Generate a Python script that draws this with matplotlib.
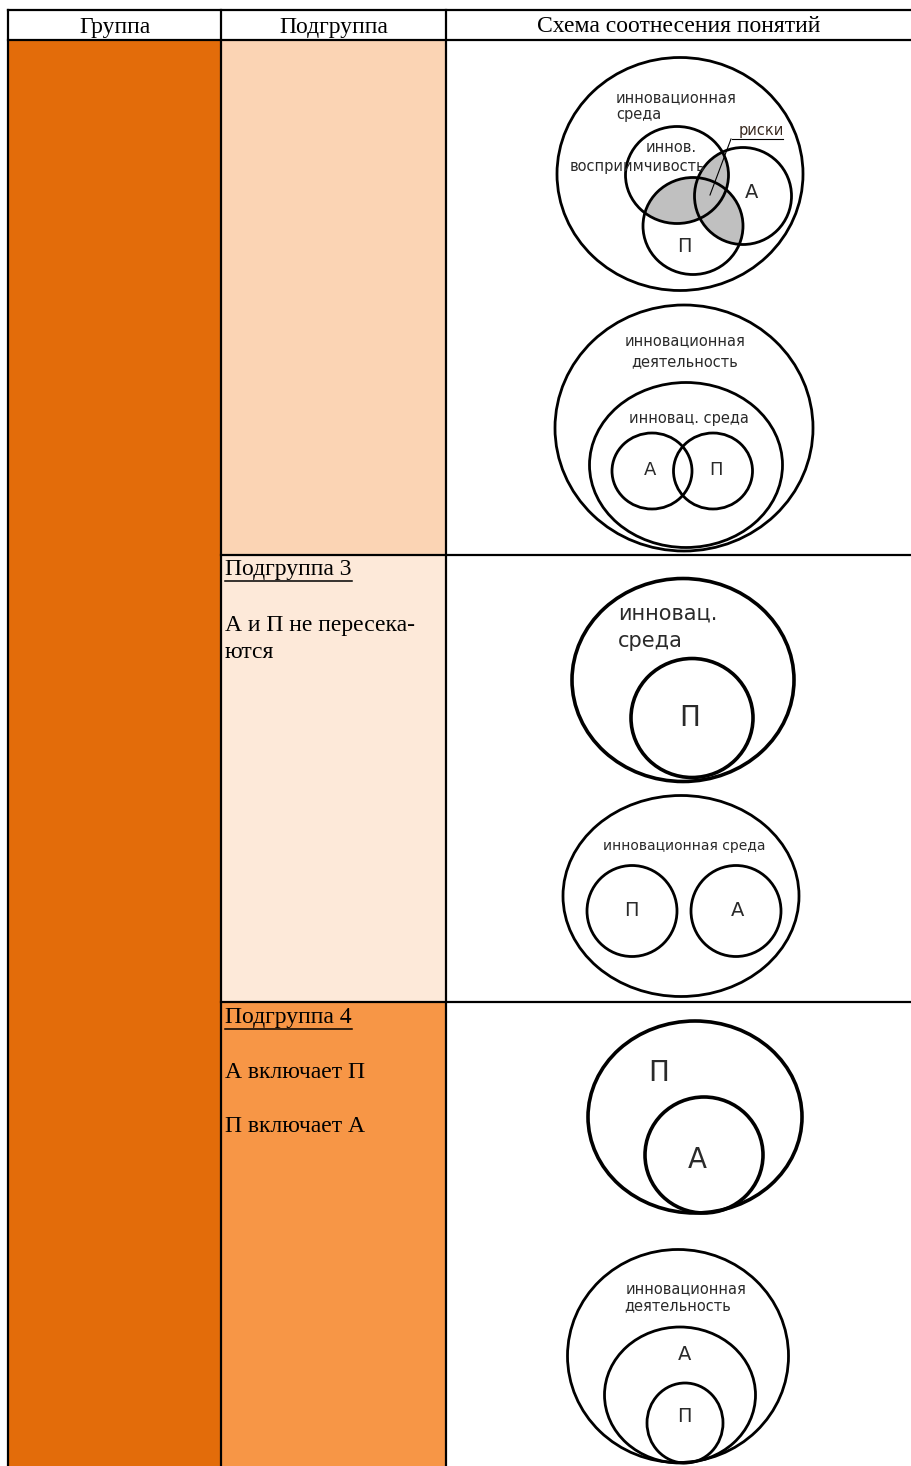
import matplotlib
matplotlib.use("Agg")
import numpy as np
import matplotlib.pyplot as plt
from matplotlib.patches import Ellipse, Rectangle

# ---- data (texts) ----
header_labels = ["Группа", "Подгруппа", "Схема соотнесения понятий"]
subgroup_titles = ["", "Подгруппа 3", "Подгруппа 4"]
subgroup_lines = [[], ["А и П не пересека-", "ются"], ["А включает П", "П включает А"]]
subgroup_colors = ["#FBD4B4", "#FDE9D9", "#F79646"]
group_color = "#E36C0A"

W, H = 911, 1466
fig = plt.figure(figsize=(W / 100, H / 100), dpi=100)
ax = fig.add_axes([0, 0, 1, 1])
ax.set_xlim(0, W)
ax.set_ylim(H, 0)
ax.axis("off")

# table geometry
x_cols = [8, 221, 446, W]
y_top, y_head = 10, 40
row_bounds = [40, 555, 1002, H]

ax.add_patch(Rectangle((x_cols[0], y_head), x_cols[1] - x_cols[0], H - y_head, color=group_color, lw=0))
for i, c in enumerate(subgroup_colors):
    ax.add_patch(Rectangle((x_cols[1], row_bounds[i]), x_cols[2] - x_cols[1],
                           row_bounds[i + 1] - row_bounds[i], color=c, lw=0))

lwt = 1.6
ax.plot([x_cols[0], W], [y_top, y_top], color="black", lw=lwt)
ax.plot([x_cols[0], W], [y_head, y_head], color="black", lw=lwt)
for x in x_cols[:3]:
    ax.plot([x, x], [y_top, H], color="black", lw=lwt)
for y in row_bounds[1:3]:
    ax.plot([x_cols[1], W], [y, y], color="black", lw=lwt)

serif = "Liberation Serif"
centers = [(x_cols[0] + x_cols[1]) / 2, (x_cols[1] + x_cols[2]) / 2, (x_cols[2] + x_cols[3]) / 2]
for lab, cx in zip(header_labels, centers):
    ax.text(cx, 27, lab, ha="center", va="center", fontsize=17, family=serif)

title_y = [None, 570, 1018]
line_ys = [[], [626, 653], [1072, 1127]]
fig.canvas.draw()
for i in range(3):
    if subgroup_titles[i]:
        t = ax.text(225, title_y[i], subgroup_titles[i], ha="left", va="center", fontsize=17, family=serif)
        bb = t.get_window_extent(renderer=fig.canvas.get_renderer()).transformed(ax.transData.inverted())
        ax.plot([bb.x0, bb.x1], [title_y[i] + 11, title_y[i] + 11], color="black", lw=1.1)
    for s, y in zip(subgroup_lines[i], line_ys[i]):
        ax.text(225, y, s, ha="left", va="center", fontsize=17, family=serif)


def ell(cx, cy, w, h, lw=2.0, z=3):
    e = Ellipse((cx, cy), w, h, fc="none", ec="black", lw=lw, zorder=z)
    ax.add_patch(e)
    return e

sans = "DejaVu Sans"
def lbl(x, y, s, size=10.5, ha="center", color="#2a2a2a"):
    ax.text(x, y, s, ha=ha, va="center", fontsize=size, family=sans, color=color, zorder=5)

# ---- diagram 1 ----
ell(680, 174, 246, 233)
circ1 = [(677, 175, 103, 97), (743, 196, 97, 97), (693, 226, 100, 97)]
# shade regions covered by at least two inner circles
x0, x1, y0, y1 = 600, 800, 110, 290
xs = np.arange(x0, x1, 0.5)
ys = np.arange(y0, y1, 0.5)
XX, YY = np.meshgrid(xs, ys)
cnt = np.zeros_like(XX)
for (cx, cy, w, h) in circ1:
    cnt += (((XX - cx) / (w / 2)) ** 2 + ((YY - cy) / (h / 2)) ** 2 <= 1).astype(float)
img = np.zeros(XX.shape + (4,))
img[..., :3] = 0.753
img[..., 3] = (cnt >= 2).astype(float)
ax.imshow(img, extent=(x0, x1, y1, y0), origin="upper", interpolation="bilinear", zorder=2)
ax.set_xlim(0, W)
ax.set_ylim(H, 0)
ax.set_aspect("auto")
for c in circ1:
    ell(*c)
lbl(616, 98, "инновационная", ha="left")
lbl(616, 114, "среда", ha="left")
lbl(671, 148, "иннов.")
lbl(570, 166, "восприимчивость", ha="left")
lbl(761, 131, "риски", color="#3a2a20")
ax.plot([732, 783], [139, 139], color="black", lw=0.8, zorder=5)
ax.plot([731, 710], [139, 195], color="black", lw=0.8, zorder=5)
lbl(752, 192, "А", size=14)
lbl(684, 247, "П", size=14)

# ---- diagram 2 ----
ell(684, 428, 258, 246)
ell(686, 465, 193, 165)
ell(652, 471, 80, 76)
ell(713, 471, 79, 76)
lbl(685, 341, "инновационная")
lbl(685, 362, "деятельность")
lbl(689, 418, "инновац. среда")
lbl(650, 470, "А", size=13)
lbl(716, 470, "П", size=13)

# ---- diagram 3 ----
ell(683, 680, 222, 203, lw=2.6)
ell(692, 718, 122, 119, lw=2.6)
lbl(618, 614, "инновац.", size=15, ha="left")
lbl(618, 641, "среда", size=15, ha="left")
lbl(690, 718, "П", size=20)

# ---- diagram 4 ----
ell(681, 896, 236, 201)
ell(632, 911, 90, 91)
ell(736, 911, 90, 91)
lbl(684, 846, "инновационная среда", size=10)
lbl(631, 911, "П", size=14)
lbl(738, 911, "А", size=14)

# ---- diagram 5 ----
ell(695, 1117, 214, 192, lw=2.6)
ell(704, 1155, 118, 116, lw=2.6)
lbl(659, 1073, "П", size=20)
lbl(697, 1160, "А", size=20)

# ---- diagram 6 ----
ell(678, 1356, 221, 213)
ell(680, 1395, 151, 136)
ell(685, 1423, 76, 80)
lbl(686, 1289, "инновационная")
lbl(678, 1306, "деятельность")
lbl(685, 1354, "А", size=14)
lbl(684, 1417, "П", size=14)

fig.savefig("out.png", dpi=100)
